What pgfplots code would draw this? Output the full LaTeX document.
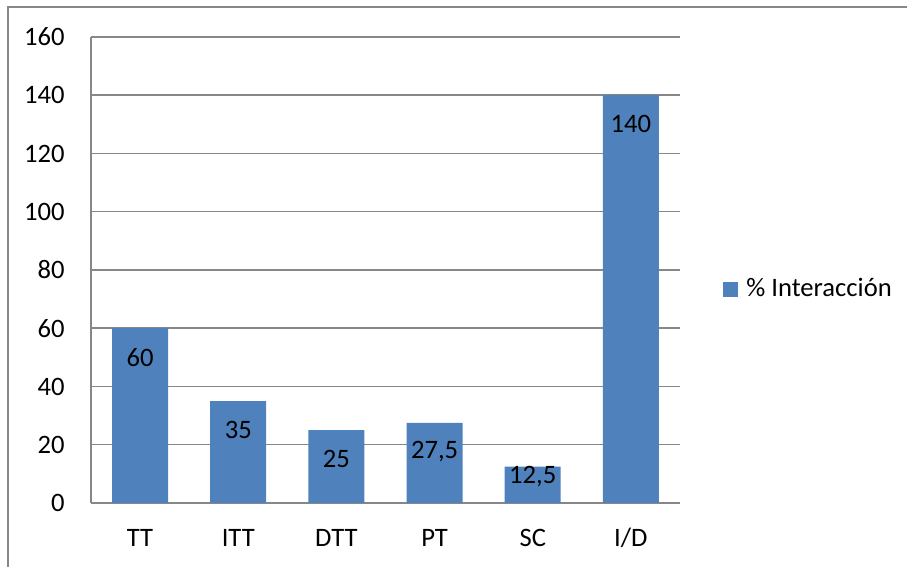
\documentclass[border=0pt]{standalone}
\usepackage{pgfplots}
\pgfplotsset{compat=1.18}
\usepackage{fontspec}
\setmainfont{Carlito}
\definecolor{barblue}{HTML}{4F81BD}
\definecolor{gridgray}{HTML}{878787}
\newcommand{\chartfont}{\fontsize{13.3}{16}\selectfont}
\begin{document}
\chartfont
\begin{tikzpicture}
\path[use as bounding box] (0,0) rectangle (453.5pt,283.5pt);
% outer chart frame (only left and top edges visible)
\draw[gridgray, line width=0.75pt] (4pt,0) -- (4pt,280pt) -- (453.5pt,280pt);
\begin{axis}[
    at={(45.5pt,32pt)}, anchor=south west,
    scale only axis,
    width=294.5pt, height=233pt,
    xmin=-0.5, xmax=5.5,
    ymin=0, ymax=160,
    ytick={0,20,...,160},
    xtick={0,...,5},
    xticklabels={TT,ITT,DTT,PT,SC,I/D},
    major tick length=0pt,
    axis x line=bottom, axis y line=left,
    axis line style={gridgray, line width=0.75pt, -},
    ymajorgrids=true,
    grid style={gridgray, line width=0.75pt},
    /pgf/number format/assume math mode=true,
    tick label style={font=\chartfont, inner sep=0pt},
    yticklabel style={anchor=east, xshift=-13pt},
    xticklabel style={anchor=base, yshift=-21.7pt},
    clip=false,
    legend style={at={(1,0.459)}, anchor=west, xshift=21.5pt,
        draw=none, fill=none, inner sep=0pt,
        font=\chartfont,
        /tikz/every odd column/.append style={column sep=2pt}},
    legend image code/.code={\fill[barblue] (0pt,-3.75pt) rectangle (7.5pt,3.75pt);},
]
\addplot[ybar, bar shift=0pt, bar width=28pt, fill=barblue, draw=none]
    coordinates {(0,60) (1,35) (2,25) (3,27.5) (4,12.5) (5,140)};
\addlegendentry{\% Interacción}

% value labels inside the bars
\addplot[draw=none, mark=none, forget plot,
    nodes near coords, point meta=explicit symbolic,
    nodes near coords style={anchor=center, inner sep=0pt, font=\chartfont}]
    coordinates {(0,50)[60] (1,25)[35] (2,15)[25] (3,17.5)[{27,5}] (4,9)[{12,5}] (5,130)[140]};
\end{axis}
\end{tikzpicture}
\end{document}
